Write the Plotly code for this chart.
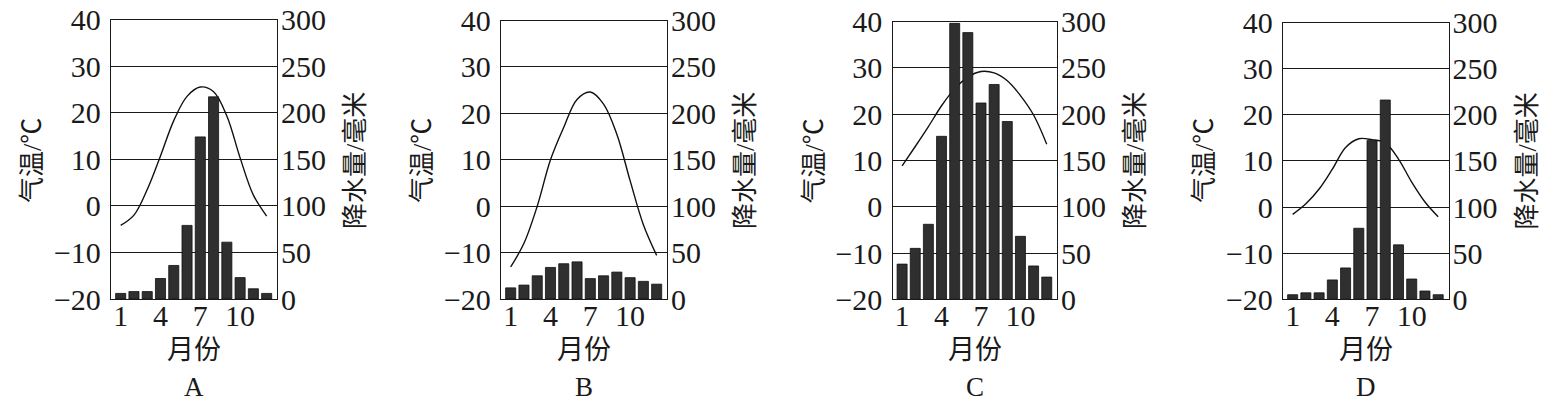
import plotly.graph_objects as go

months = list(range(1, 13))
panel_labels = ["A", "B", "C", "D"]

temp_A = [-4.2, -2.0, 3.5, 10.7, 18.3, 23.5, 25.5, 24.5, 19.3, 10.3, 2.3, -2.2]
rain_A = [6, 8, 8, 22, 36, 79, 174, 217, 61, 23, 11, 6]

temp_B = [-13.1, -8.0, 0.0, 10.0, 17.0, 23.0, 24.6, 22.0, 15.5, 5.5, -4.0, -10.6]
rain_B = [12, 15, 25, 34, 38, 40, 22, 25, 29, 23, 19, 16]

temp_C = [8.8, 13.0, 17.3, 21.8, 25.5, 28.0, 29.2, 28.9, 27.2, 24.0, 19.8, 13.5]
rain_C = [38, 55, 81, 176, 298, 288, 212, 232, 192, 68, 36, 24]

temp_D = [-1.6, 0.7, 3.9, 8.2, 12.9, 14.8, 14.6, 13.9, 10.4, 5.4, 1.1, -2.1]
rain_D = [5, 7, 7, 21, 34, 77, 172, 216, 59, 22, 9, 5]

temps = [temp_A, temp_B, temp_C, temp_D]
rains = [rain_A, rain_B, rain_C, rain_D]

temp_ticks = [-20, -10, 0, 10, 20, 30, 40]
temp_ticktext = ["\u221220", "\u221210", "0", "10", "20", "30", "40"]
rain_ticks = [0, 50, 100, 150, 200, 250, 300]
month_ticks = [1, 4, 7, 10]

# the page body has an 8px margin: work in page pixels and convert
OFF = 8
W, H = 1563 - OFF, 403 - OFF


def px(xp):
    return (xp - OFF) / W


def py(yp):
    return 1 - (yp - OFF) / H


# plot-box pixel geometry per panel (page pixels): left, right, top, bottom
boxes = [(111, 277, 19.5, 299), (501, 667, 20.5, 299),
         (892.5, 1057, 21.5, 299.3), (1283, 1448.5, 22.5, 299.3)]

SERIF = "Liberation Serif"
CJK = "Liberation Serif, Noto Sans CJK SC"
INK = "#1a1a1a"

fig = go.Figure()
layout = dict(width=W, height=H, margin=dict(l=0, r=0, t=0, b=0, autoexpand=False),
              paper_bgcolor="white", plot_bgcolor="white", showlegend=False,
              bargap=0.24)
annotations = []

for i, (l, r, t, b) in enumerate(boxes):
    n = i + 1
    xa = "x" if n == 1 else f"x{n}"
    ya_t = "y" if n == 1 else f"y{2*n-1}"
    ya_r = f"y{2*n}"
    xd = [px(l), px(r)]
    yd = [py(b), py(t)]

    fig.add_trace(go.Bar(x=months, y=rains[i], xaxis=xa, yaxis=ya_r,
                         width=0.76,
                         marker=dict(color="#2f2f2f", line=dict(color="#111", width=0.8))))
    fig.add_trace(go.Scatter(x=months, y=temps[i], xaxis=xa, yaxis=ya_t,
                             mode="lines", line=dict(color="#111", width=1.4,
                                                     shape="spline", smoothing=1.0)))

    layout["xaxis" if n == 1 else f"xaxis{n}"] = dict(
        domain=xd, range=[0.27, 12.78], anchor=ya_t, automargin=False,
        tickvals=month_ticks, ticktext=[str(m) for m in month_ticks],
        ticks="", showgrid=False, zeroline=False, ticklabeloverflow="allow",
        showline=True, mirror=True, linecolor=INK, linewidth=1.3,
        tickfont=dict(family=SERIF, size=30, color=INK), ticklabelstandoff=-10)
    layout["yaxis" if n == 1 else f"yaxis{2*n-1}"] = dict(
        domain=yd, range=[-20, 40], anchor=xa, automargin=False,
        tickvals=temp_ticks, ticktext=temp_ticktext, ticklabeloverflow="allow",
        ticks="", showgrid=True, gridcolor=INK, gridwidth=1.1, zeroline=False,
        showline=True, mirror=True, linecolor=INK, linewidth=1.3,
        tickfont=dict(family=SERIF, size=30, color=INK), ticklabelstandoff=3)
    layout[f"yaxis{2*n}"] = dict(
        range=[0, 300], overlaying=ya_t, side="right", anchor=xa, automargin=False,
        tickvals=rain_ticks, ticks="", showgrid=False, zeroline=False,
        showline=False, ticklabeloverflow="allow",
        tickfont=dict(family=SERIF, size=30, color=INK), ticklabelstandoff=3)

    cx = px((l + r) / 2)
    annotations += [
        dict(text="气温/℃", x=px(l - 79), y=py(161), xref="paper", yref="paper",
             textangle=-90, showarrow=False, xanchor="center", yanchor="middle",
             font=dict(family=CJK, size=26, color=INK)),
        dict(text="降水量/毫米", x=px(r + 78), y=py(161), xref="paper", yref="paper",
             textangle=-90, showarrow=False, xanchor="center", yanchor="middle",
             font=dict(family=CJK, size=26, color=INK)),
        dict(text="月份", x=cx, y=py(350), xref="paper", yref="paper",
             showarrow=False, xanchor="center", yanchor="middle",
             font=dict(family=CJK, size=27, color=INK)),
        dict(text=panel_labels[i], x=cx, y=py(387), xref="paper", yref="paper",
             showarrow=False, xanchor="center", yanchor="middle",
             font=dict(family=SERIF, size=27, color=INK)),
    ]

layout["annotations"] = annotations
fig.update_layout(**layout)
fig.write_html("out.html")
